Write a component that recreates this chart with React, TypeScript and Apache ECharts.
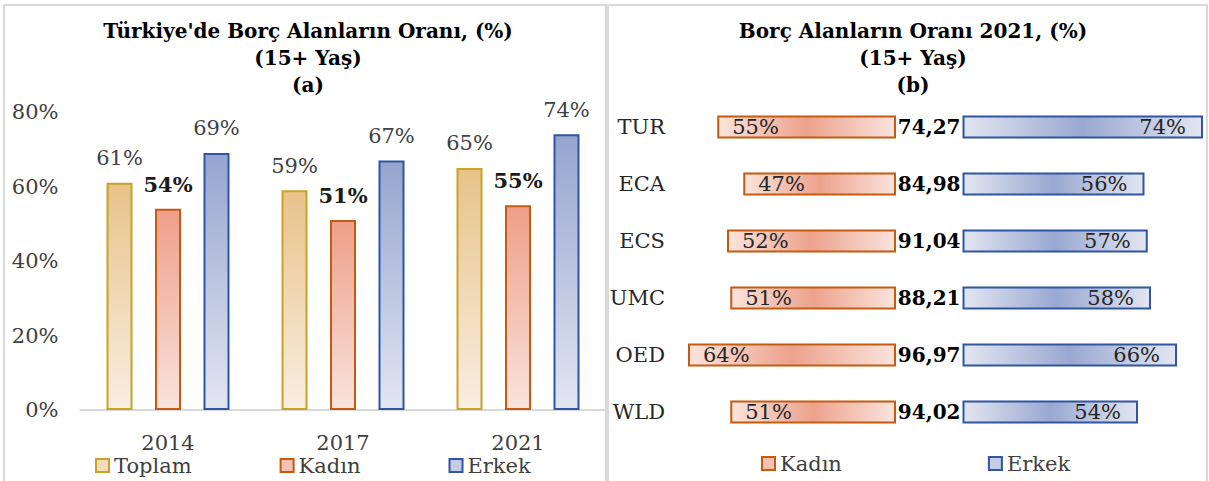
import React, { useEffect, useRef } from "react";
import * as echarts from "echarts";

const years = ["2014", "2017", "2021"];
const toplam = [61, 59, 65];
const kadinTr = [54, 51, 55];
const erkekTr = [69, 67, 74];
const yTicks = [0, 20, 40, 60, 80];

const regions = ["TUR", "ECA", "ECS", "UMC", "OED", "WLD"];
const kadinReg = [55, 47, 52, 51, 64, 51];
const erkekReg = [74, 56, 57, 58, 66, 54];
const ratios = ["74,27", "84,98", "91,04", "88,21", "96,97", "94,02"];

const FONT = "DejaVu Serif";
const TXT = "#404040";

const vgrad = (top: string, bottom: string) => ({
  type: "linear", x: 0, y: 0, x2: 0, y2: 1,
  colorStops: [{ offset: 0, color: top }, { offset: 1, color: bottom }],
});
const hgrad = (edge: string, mid: string) => ({
  type: "linear", x: 0, y: 0, x2: 1, y2: 0,
  colorStops: [{ offset: 0, color: edge }, { offset: 0.5, color: mid }, { offset: 1, color: edge }],
});

const pct = (p: any) => Math.round(p.value) + "%";

export default function App() {
  const ref = useRef<HTMLDivElement>(null);
  useEffect(() => {
    document.body.style.margin = "0";
    const chart = echarts.init(ref.current!, null, { renderer: "svg" });
    const barLabel = (bold: boolean) => ({
      show: true, position: "top", distance: 14, formatter: pct,
      fontFamily: FONT, fontSize: 21, color: bold ? "#1a1a1a" : TXT,
      fontWeight: bold ? "bold" : "normal",
    });
    const titleStyle = { fontFamily: FONT, fontSize: 20, fontWeight: "bold", color: "#000", lineHeight: 27 };
    chart.setOption({
      animation: false,
      backgroundColor: "#ffffff",
      textStyle: { fontFamily: FONT },
      graphic: [
        { type: "rect", shape: { x: 4, y: 5, width: 602, height: 500 }, style: { fill: "none", stroke: "#d9d9d9", lineWidth: 2 } },
        { type: "rect", shape: { x: 608, y: 5, width: 599, height: 500 }, style: { fill: "none", stroke: "#d9d9d9", lineWidth: 2 } },
      ],
      title: [
        {
          text: "Türkiye'de Borç Alanların Oranı, (%)\n(15+ Yaş)\n(a)",
          left: 303, top: 12, textAlign: "center", textStyle: titleStyle,
        },
        {
          text: "Borç Alanların Oranı 2021, (%)\n(15+ Yaş)\n(b)",
          left: 908, top: 12, textAlign: "center", textStyle: titleStyle,
        },
      ],
      legend: [
        {
          left: 95, top: 455, padding: 0, itemWidth: 13, itemHeight: 13, itemGap: 88, icon: "rect",
          textStyle: { fontFamily: FONT, fontSize: 21, color: TXT },
          data: [
            { name: "Toplam", itemStyle: { color: "#f1dcc0", borderColor: "#c9a227", borderWidth: 2 } },
            { name: "Kadın", itemStyle: { color: "#f4c2b5", borderColor: "#c55a11", borderWidth: 2 } },
            { name: "Erkek", itemStyle: { color: "#c3cce4", borderColor: "#2f55a4", borderWidth: 2 } },
          ],
        },
        {
          left: 761, top: 453, padding: 0, itemWidth: 13, itemHeight: 13, itemGap: 146, icon: "rect",
          textStyle: { fontFamily: FONT, fontSize: 21, color: TXT },
          data: [
            { name: "Kadın", itemStyle: { color: "#f4c2b5", borderColor: "#c55a11", borderWidth: 2 } },
            { name: "Erkek", itemStyle: { color: "#c3cce4", borderColor: "#2f55a4", borderWidth: 2 } },
          ],
        },
      ],
      grid: [
        { left: 80.5, right: 1209 - 605.5, top: 112, bottom: 71 },
        { left: 668.5, right: 1209 - 896, top: 98.5, bottom: 40.5 },
        { left: 962.5, right: 1209 - 1206.25, top: 98.5, bottom: 40.5 },
      ],
      xAxis: [
        {
          gridIndex: 0, type: "category", data: years,
          axisLine: { lineStyle: { color: "#d9d9d9", width: 2 } }, axisTick: { show: false },
          axisLabel: { fontFamily: FONT, fontSize: 21, color: TXT, margin: 22 },
        },
        { gridIndex: 1, type: "value", min: 0, max: 70, inverse: true, show: false },
        { gridIndex: 2, type: "value", min: 0, max: 75, show: false },
      ],
      yAxis: [
        {
          gridIndex: 0, type: "value", min: yTicks[0], max: yTicks[yTicks.length - 1], interval: 20,
          splitLine: { show: false }, axisLine: { show: false }, axisTick: { show: false },
          axisLabel: { fontFamily: FONT, fontSize: 21, color: TXT, margin: 22, formatter: (v: number) => v + "%" },
        },
        {
          gridIndex: 1, type: "category", data: regions, inverse: true,
          axisLine: { show: false }, axisTick: { show: false },
          axisLabel: { fontFamily: FONT, fontSize: 21, color: "#262626", margin: 3.5 },
        },
        {
          gridIndex: 2, type: "category", data: regions, inverse: true,
          axisLine: { show: false }, axisTick: { show: false },
          axisLabel: {
            fontFamily: FONT, fontSize: 20, fontWeight: "bold", color: "#000", margin: 2,
            formatter: (_v: string, i: number) => ratios[i],
          },
        },
      ],
      series: [
        {
          name: "Toplam", type: "bar", xAxisIndex: 0, yAxisIndex: 0, data: toplam,
          barWidth: 26, barGap: "86.5%",
          itemStyle: { color: vgrad("#e8c389", "#f8eee2"), borderColor: "#c9a227", borderWidth: 2 },
          label: barLabel(false),
        },
        {
          name: "Kadın", type: "bar", xAxisIndex: 0, yAxisIndex: 0, data: kadinTr,
          barWidth: 26, barGap: "86.5%",
          itemStyle: { color: vgrad("#ee9f89", "#f9e3dd"), borderColor: "#c55a11", borderWidth: 2 },
          label: barLabel(true),
        },
        {
          name: "Erkek", type: "bar", xAxisIndex: 0, yAxisIndex: 0, data: erkekTr,
          barWidth: 26, barGap: "86.5%",
          itemStyle: { color: vgrad("#96a5cf", "#e2e6f1"), borderColor: "#2f55a4", borderWidth: 2 },
          label: barLabel(false),
        },
        {
          name: "Kadın", type: "bar", xAxisIndex: 1, yAxisIndex: 1, data: kadinReg, barWidth: 23,
          itemStyle: { color: hgrad("#fae4dd", "#eda28d"), borderColor: "#c55a11", borderWidth: 2 },
          label: {
            show: true, position: "insideLeft", distance: 15, formatter: pct,
            fontFamily: FONT, fontSize: 21, color: "#262626",
          },
        },
        {
          name: "Erkek", type: "bar", xAxisIndex: 2, yAxisIndex: 2, data: erkekReg, barWidth: 23,
          itemStyle: { color: hgrad("#e3e6f1", "#99a8d1"), borderColor: "#2f55a4", borderWidth: 2 },
          label: {
            show: true, position: "insideRight", distance: 17, formatter: pct,
            fontFamily: FONT, fontSize: 21, color: "#262626",
          },
        },
      ],
    });
    return () => chart.dispose();
  }, []);
  return <div ref={ref} style={{ width: 1209, height: 481 }} />;
}
